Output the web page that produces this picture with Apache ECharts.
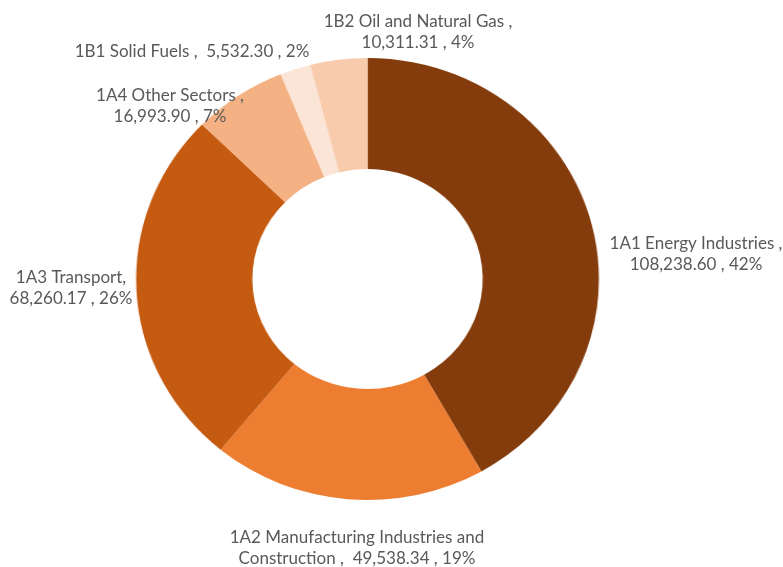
<!DOCTYPE html>
<html>
<head>
<meta charset="utf-8">
<script src="https://cdn.jsdelivr.net/npm/echarts@6/dist/echarts.min.js"></script>
<style>
  html, body { margin: 0; padding: 0; background: #ffffff; }
  #wrap { position: relative; width: 783px; height: 567px; overflow: hidden; }
  #ring, #labels { position: absolute; left: 0; top: 0; width: 783px; height: 567px; }
  /* the ring is drawn slightly wider than tall */
  #ring { transform: scaleX(1.047); transform-origin: 367.5px 279px; }
</style>
</head>
<body>
<div id="wrap">
  <div id="ring"></div>
  <div id="labels"></div>
</div>
<script>
// Emissions by source category (clockwise from 12 o'clock)
const categories = [
  '1A1 Energy Industries',
  '1A2 Manufacturing Industries and Construction',
  '1A3 Transport',
  '1A4 Other Sectors',
  '1B1 Solid Fuels',
  '1B2 Oil and Natural Gas'
];
const emissions = [108238.60, 49538.34, 68260.17, 16993.90, 5532.30, 10311.31];
const sliceColors = ['#843C0C', '#ED7D31', '#C55A11', '#F4B183', '#FBE5D6', '#F8CBAD'];

const total = emissions.reduce((a, b) => a + b, 0);
const fmtNum = v => v.toLocaleString('en-US', { minimumFractionDigits: 2, maximumFractionDigits: 2 });
const fmtPct = v => Math.round(v / total * 100) + '%';

const pieData = categories.map((name, i) => ({
  name: name,
  value: emissions[i],
  itemStyle: { color: sliceColors[i] }
}));

// label text, wrapped the way each callout is laid out
function labelText(i) {
  const name = categories[i], v = fmtNum(emissions[i]), p = fmtPct(emissions[i]);
  switch (i) {
    case 1: return '1A2 Manufacturing Industries and\nConstruction ,  ' + v + ' , ' + p;
    case 2: return name + ',\n' + v + ' , ' + p;
    case 4: return name + ' ,  ' + v + ' , ' + p;
    default: return name + ' ,\n' + v + ' , ' + p;
  }
}

// callout centres in pixels
const labelSpots = [
  [696, 254], [357, 548], [71, 288], [170, 106], [192, 52], [418, 32]
];

const ring = echarts.init(document.getElementById('ring'), null, { renderer: 'canvas' });
ring.setOption({
  animation: false,
  series: [{
    type: 'pie',
    center: [367.5, 279],
    radius: [110, 221],
    startAngle: 90,
    clockwise: true,
    silent: true,
    label: { show: false },
    labelLine: { show: false },
    itemStyle: { borderWidth: 0 },
    data: pieData
  }]
});

const labels = echarts.init(document.getElementById('labels'), null, { renderer: 'canvas' });
labels.setOption({
  animation: false,
  series: [{
    type: 'pie',
    center: [367.5, 279],
    radius: [110, 221],
    startAngle: 90,
    clockwise: true,
    silent: true,
    itemStyle: { color: 'rgba(0,0,0,0)' },
    label: {
      show: true,
      position: 'outside',
      alignTo: 'none',
      overflow: 'none',
      width: 400,
      formatter: p => labelText(p.dataIndex),
      fontFamily: 'Lato',
      fontSize: 17,
      lineHeight: 21,
      color: '#595959',
      align: 'center'
    },
    labelLine: { show: false },
    labelLayout: p => ({
      x: labelSpots[p.dataIndex][0],
      y: labelSpots[p.dataIndex][1],
      align: 'center',
      verticalAlign: 'middle'
    }),
    data: categories.map((name, i) => ({ name: name, value: emissions[i] }))
  }]
});
</script>
</body>
</html>
